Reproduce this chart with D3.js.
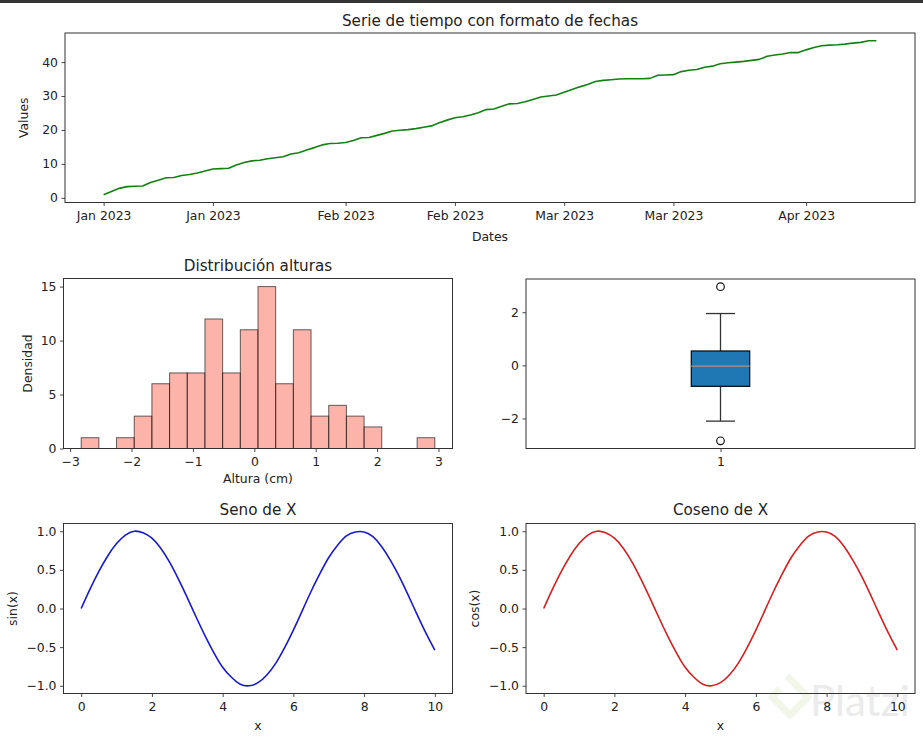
<!DOCTYPE html>
<html>
<head>
<meta charset="utf-8">
<script src="https://cdn.jsdelivr.net/npm/d3@7"></script>
<style>
  body { margin: 0; background: #fff; }
  svg { display: block; font-family: "DejaVu Sans", sans-serif; }
</style>
</head>
<body>
<div id="chart"></div>
<script>
// --- datos ---
var seriesStart = "2023-01-01";
var seriesValues = [
  0.9, 1.9, 2.8, 3.3, 3.4, 3.5, 4.5, 5.2, 5.9, 6.0,
  6.6, 6.9, 7.3, 7.9, 8.5, 8.6, 8.7, 9.7, 10.4, 10.9,
  11.1, 11.5, 11.8, 12.1, 12.9, 13.3, 14.1, 14.8, 15.6, 16.0,
  16.1, 16.3, 16.9, 17.7, 17.8, 18.4, 19.0, 19.7, 19.9, 20.1,
  20.4, 20.8, 21.2, 22.1, 22.9, 23.6, 23.9, 24.4, 25.1, 26.0,
  26.2, 27.0, 27.7, 27.8, 28.3, 29.0, 29.7, 30.0, 30.3, 31.1,
  31.9, 32.7, 33.4, 34.3, 34.6, 34.8, 35.0, 35.1, 35.1, 35.1,
  35.2, 36.1, 36.2, 36.3, 37.2, 37.6, 37.8, 38.5, 38.8, 39.5,
  39.8, 40.0, 40.2, 40.5, 40.8, 41.7, 42.1, 42.4, 42.8, 42.8,
  43.6, 44.3, 44.8, 45.0, 45.1, 45.3, 45.6, 45.8, 46.3, 46.3
];
var dateTicks = ["2023-01-01", "2023-01-15", "2023-02-01", "2023-02-15", "2023-03-01", "2023-03-15", "2023-04-01"];
var seriesYTicks = [0, 10, 20, 30, 40];

var histEdgeMin = -2.82, histEdgeMax = 2.94;
var histCounts = [1, 0, 1, 3, 6, 7, 7, 12, 7, 11, 15, 6, 11, 3, 4, 3, 2, 0, 0, 1];
var histXTicks = [-3, -2, -1, 0, 1, 2, 3];
var histYTicks = [0, 5, 10, 15];

var boxQuartiles = [-0.79, -0.03, 0.54];
var boxWhiskers = [-2.10, 1.95];
var boxOutliers = [-2.84, 2.96];
var boxYTicks = [-2, 0, 2];

var waveX = [0, 0.25, 0.5, 0.75, 1, 1.25, 1.5, 1.75, 2, 2.25, 2.5, 2.75, 3, 3.25, 3.5, 3.75, 4, 4.25, 4.5, 4.75,
  5, 5.25, 5.5, 5.75, 6, 6.25, 6.5, 6.75, 7, 7.25, 7.5, 7.75, 8, 8.25, 8.5, 8.75, 9, 9.25, 9.5, 9.75, 10];
var sinValues = [0, 0.25, 0.48, 0.68, 0.84, 0.95, 1.00, 0.98, 0.91, 0.78, 0.60, 0.38, 0.14, -0.11, -0.35, -0.57,
  -0.76, -0.89, -0.98, -1.00, -0.96, -0.86, -0.71, -0.51, -0.28, -0.03, 0.22, 0.45, 0.66, 0.82, 0.94, 0.99,
  0.99, 0.93, 0.80, 0.62, 0.41, 0.17, -0.08, -0.32, -0.54];
var cosValues = [0, 0.25, 0.48, 0.68, 0.84, 0.95, 1.00, 0.98, 0.91, 0.78, 0.60, 0.38, 0.14, -0.11, -0.35, -0.57,
  -0.76, -0.89, -0.98, -1.00, -0.96, -0.86, -0.71, -0.51, -0.28, -0.03, 0.22, 0.45, 0.66, 0.82, 0.94, 0.99,
  0.99, 0.93, 0.80, 0.62, 0.41, 0.17, -0.08, -0.32, -0.54];
var waveXTicks = [0, 2, 4, 6, 8, 10];
var waveYTicks = [-1, -0.5, 0, 0.5, 1];

// --- figura ---
var W = 923, H = 737;
var FONT = 12.4, TITLE = 15.2, INK = "#222", SPINE = "#333";

var svg = d3.select("#chart").append("svg").attr("width", W).attr("height", H);
svg.append("rect").attr("width", W).attr("height", 3).attr("fill", "#333");

// marca de agua
var wm = svg.append("g").attr("opacity", 0.5);
wm.append("path")
  .attr("d", "M787,676 L808,697 L790,715 L772,697 L780,689")
  .attr("fill", "none").attr("stroke", "#e4efd2").attr("stroke-width", 7).attr("stroke-linejoin", "round");
wm.append("text").attr("x", 810).attr("y", 716).attr("font-size", 42)
  .attr("font-family", "Lato, sans-serif").attr("fill", "#d8d8d8").text("Platzi");

function pad(ext, f) { var d = (ext[1] - ext[0]) * f; return [ext[0] - d, ext[1] + d]; }

function makePanel(l, t, r, b) {
  var g = svg.append("g").attr("transform", "translate(" + [l, t] + ")");
  return { g: g, w: r - l, h: b - t };
}

function styleAxis(sel) {
  sel.attr("font-size", null).attr("font-family", null);
  sel.select(".domain").remove();
  sel.selectAll(".tick line").attr("stroke", SPINE).attr("stroke-width", 0.9);
  sel.selectAll(".tick text").attr("fill", INK).attr("font-size", FONT);
}

function axes(p, x, y, xTicks, yTicks, xFmt, yFmt) {
  p.g.append("g").attr("transform", "translate(0," + p.h + ")")
    .call(d3.axisBottom(x).tickValues(xTicks).tickFormat(xFmt).tickSize(3.5).tickPadding(5))
    .call(styleAxis);
  p.g.append("g")
    .call(d3.axisLeft(y).tickValues(yTicks).tickFormat(yFmt).tickSize(3.5).tickPadding(3.5))
    .call(styleAxis);
}

function frame(p) {
  p.g.append("rect").attr("width", p.w).attr("height", p.h)
    .attr("fill", "none").attr("stroke", SPINE).attr("stroke-width", 1);
}

function title(p, txt, dy) {
  p.g.append("text").attr("x", p.w / 2).attr("y", -dy).attr("text-anchor", "middle")
    .attr("font-size", TITLE).attr("fill", INK).text(txt);
}

function xLabel(p, txt, dy) {
  p.g.append("text").attr("x", p.w / 2).attr("y", p.h + dy).attr("text-anchor", "middle")
    .attr("font-size", FONT).attr("fill", INK).text(txt);
}

function yLabel(p, txt, dx) {
  p.g.append("text").attr("transform", "translate(" + [-dx, p.h / 2] + ") rotate(-90)")
    .attr("text-anchor", "middle").attr("font-size", FONT).attr("fill", INK).text(txt);
}

// 1) serie de tiempo
(function () {
  var p = makePanel(65, 33, 915, 202.5);
  var start = d3.timeParse("%Y-%m-%d")(seriesStart);
  var data = seriesValues.map(function (v, i) { return { d: d3.timeDay.offset(start, i), v: v }; });
  var tExt = d3.extent(data, function (d) { return +d.d; });
  var x = d3.scaleTime().domain(pad(tExt, 0.05).map(function (t) { return new Date(t); })).range([0, p.w]);
  var y = d3.scaleLinear().domain(pad(d3.extent(seriesValues), 0.05)).range([p.h, 0]);

  p.g.append("path").datum(data)
    .attr("fill", "none").attr("stroke", "#138013").attr("stroke-width", 1.6).attr("stroke-linejoin", "round")
    .attr("d", d3.line().x(function (d) { return x(d.d); }).y(function (d) { return y(d.v); }));

  axes(p, x, y, dateTicks.map(d3.timeParse("%Y-%m-%d")), seriesYTicks, d3.timeFormat("%b %Y"), d3.format("d"));
  frame(p);
  title(p, "Serie de tiempo con formato de fechas", 7.5);
  xLabel(p, "Dates", 38.5);
  yLabel(p, "Values", 37);
})();

// 2) histograma
(function () {
  var p = makePanel(63.5, 278.5, 452.5, 448.5);
  var step = (histEdgeMax - histEdgeMin) / histCounts.length;
  var bins = histCounts.map(function (c, i) { return { x0: histEdgeMin + i * step, x1: histEdgeMin + (i + 1) * step, c: c }; });
  var x = d3.scaleLinear().domain(pad([histEdgeMin, histEdgeMax], 0.05)).range([0, p.w]);
  var y = d3.scaleLinear().domain([0, d3.max(histCounts) * 1.05]).range([p.h, 0]);

  p.g.selectAll("rect.bar").data(bins).enter().append("rect").attr("class", "bar")
    .attr("x", function (d) { return x(d.x0); })
    .attr("width", function (d) { return x(d.x1) - x(d.x0); })
    .attr("y", function (d) { return y(d.c); })
    .attr("height", function (d) { return y(0) - y(d.c); })
    .attr("fill", "#fa8072").attr("fill-opacity", 0.6)
    .attr("stroke", "#000").attr("stroke-opacity", 0.6).attr("stroke-width", 1);

  axes(p, x, y, histXTicks, histYTicks, d3.format("d"), d3.format("d"));
  frame(p);
  title(p, "Distribución alturas", 8);
  xLabel(p, "Altura (cm)", 34.5);
  yLabel(p, "Densidad", 32);
})();

// 3) diagrama de caja
(function () {
  var p = makePanel(526, 279, 915, 448.5);
  var x = d3.scaleLinear().domain([0.5, 1.5]).range([0, p.w]);
  var y = d3.scaleLinear().domain(pad([boxOutliers[0], boxOutliers[1]], 0.05)).range([p.h, 0]);
  var bw = 0.15;

  p.g.append("line").attr("x1", x(1)).attr("x2", x(1))
    .attr("y1", y(boxWhiskers[1])).attr("y2", y(boxQuartiles[2])).attr("stroke", SPINE).attr("stroke-width", 1.3);
  p.g.append("line").attr("x1", x(1)).attr("x2", x(1))
    .attr("y1", y(boxQuartiles[0])).attr("y2", y(boxWhiskers[0])).attr("stroke", SPINE).attr("stroke-width", 1.3);
  p.g.selectAll("line.cap").data(boxWhiskers).enter().append("line").attr("class", "cap")
    .attr("x1", x(1 - bw / 4)).attr("x2", x(1 + bw / 4))
    .attr("y1", function (d) { return y(d); }).attr("y2", function (d) { return y(d); })
    .attr("stroke", SPINE).attr("stroke-width", 1.3);
  p.g.append("rect")
    .attr("x", x(1 - bw / 2)).attr("width", x(1 + bw / 2) - x(1 - bw / 2))
    .attr("y", y(boxQuartiles[2])).attr("height", y(boxQuartiles[0]) - y(boxQuartiles[2]))
    .attr("fill", "#1f77b4").attr("stroke", "#111").attr("stroke-width", 1.3);
  p.g.append("line").attr("x1", x(1 - bw / 2)).attr("x2", x(1 + bw / 2))
    .attr("y1", y(boxQuartiles[1])).attr("y2", y(boxQuartiles[1]))
    .attr("stroke", "#8a8a8a").attr("stroke-width", 1.6);
  p.g.selectAll("circle.out").data(boxOutliers).enter().append("circle").attr("class", "out")
    .attr("cx", x(1)).attr("cy", function (d) { return y(d); }).attr("r", 3.8)
    .attr("fill", "none").attr("stroke", "#111").attr("stroke-width", 1.2);

  axes(p, x, y, [1], boxYTicks, d3.format("d"), d3.format("d"));
  frame(p);
})();

// 4) y 5) ondas
function wave(l, r, vals, color, ttl, ylab, ylabDx) {
  var p = makePanel(l, 523.5, r, 693.5);
  var x = d3.scaleLinear().domain(pad(d3.extent(waveX), 0.05)).range([0, p.w]);
  var y = d3.scaleLinear().domain(pad([-1, 1], 0.05)).range([p.h, 0]);
  p.g.append("path").datum(waveX)
    .attr("fill", "none").attr("stroke", color).attr("stroke-width", 1.6)
    .attr("d", d3.line().curve(d3.curveNatural)
      .x(function (d) { return x(d); }).y(function (d, i) { return y(vals[i]); }));
  axes(p, x, y, waveXTicks, waveYTicks, d3.format("d"), d3.format(".1f"));
  frame(p);
  title(p, ttl, 8.5);
  xLabel(p, "x", 36.5);
  yLabel(p, ylab, ylabDx);
}
wave(63.5, 452.5, sinValues, "#1a1ad0", "Seno de X", "sin(x)", 46.5);
wave(526, 915, cosValues, "#d42020", "Coseno de X", "cos(x)", 47);
</script>
</body>
</html>
